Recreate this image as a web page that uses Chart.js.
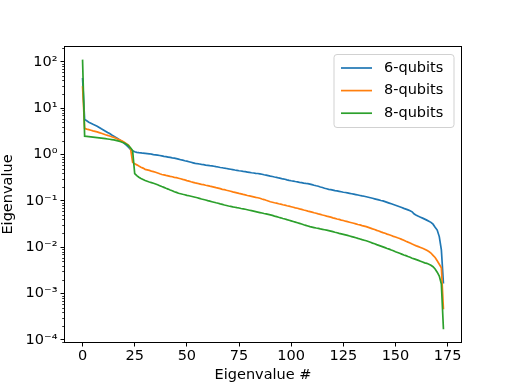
<!DOCTYPE html>
<html><head><meta charset="utf-8">
<script src="https://cdn.jsdelivr.net/npm/chart.js@4.4.0/dist/chart.umd.min.js"></script>
<style>html,body{margin:0;padding:0;background:#fff;overflow:hidden}canvas{display:block}</style>
</head><body>
<canvas id="c" width="514" height="385"></canvas>
<script>
const seriesLabels = ['6-qubits', '8-qubits', '8-qubits'];
const seriesColors = ['#1f77b4', '#ff7f0e', '#2ca02c'];
const xTickValues = [0, 25, 50, 75, 100, 125, 150, 175];
const yTickValues = [1e-4, 1e-3, 1e-2, 1e-1, 1e0, 1e1, 1e2];
const yTickLabels = ['10⁻⁴', '10⁻³', '10⁻²', '10⁻¹', '10⁰', '10¹', '10²'];
const xTitle = 'Eigenvalue #';
const yTitle = 'Eigenvalue';

const blue = [
45, 5.7, 5.35, 5.0, 4.75, 4.5, 4.3, 4.1, 3.85, 3.6,
3.4, 3.2, 3.0, 2.85, 2.65, 2.5, 2.35, 2.2, 2.05, 1.9,
1.75, 1.6, 1.45, 1.3, 1.2, 1.15, 1.12, 1.1, 1.09, 1.07,
1.06, 1.05, 1.04, 1.02, 1.0, 0.985, 0.97, 0.955, 0.935, 0.915,
0.9, 0.885, 0.87, 0.85, 0.835, 0.815, 0.795, 0.775, 0.757, 0.737,
0.72, 0.70, 0.682, 0.664, 0.646, 0.635, 0.627, 0.614, 0.606, 0.594,
0.587, 0.577, 0.569, 0.559, 0.548, 0.539, 0.527, 0.519, 0.508, 0.5,
0.49, 0.482, 0.474, 0.464, 0.457, 0.448, 0.442, 0.433, 0.427, 0.42,
0.413, 0.405, 0.4, 0.394, 0.39, 0.384, 0.376, 0.367, 0.36, 0.352,
0.344, 0.337, 0.328, 0.322, 0.313, 0.307, 0.298, 0.293, 0.285, 0.278,
0.272, 0.268, 0.262, 0.258, 0.252, 0.249, 0.243, 0.239, 0.236, 0.231,
0.225, 0.218, 0.212, 0.207, 0.2, 0.195, 0.188, 0.183, 0.178, 0.175,
0.171, 0.167, 0.164, 0.161, 0.158, 0.154, 0.152, 0.149, 0.146, 0.143,
0.14, 0.137, 0.134, 0.131, 0.128, 0.126, 0.123, 0.12, 0.117, 0.114,
0.111, 0.108, 0.105, 0.102, 0.1, 0.0965, 0.093, 0.0897, 0.0866, 0.0835,
0.0806, 0.0777, 0.075, 0.072, 0.069, 0.0665, 0.064, 0.0615, 0.058, 0.052,
0.049, 0.0465, 0.0445, 0.0425, 0.0405, 0.0385, 0.0365, 0.0345, 0.0315, 0.027,
0.0235, 0.017, 0.0088, 0.00165
];
const orange = [
30, 3.67, 3.55, 3.45, 3.35, 3.25, 3.17, 3.09, 2.98, 2.88,
2.78, 2.68, 2.6, 2.52, 2.43, 2.35, 2.25, 2.15, 2.05, 1.95,
1.85, 1.72, 1.6, 1.35, 0.68, 0.63, 0.6, 0.565, 0.535, 0.51,
0.48, 0.468, 0.455, 0.44, 0.428, 0.415, 0.4, 0.385, 0.372, 0.364,
0.355, 0.348, 0.338, 0.332, 0.323, 0.317, 0.309, 0.3, 0.291, 0.284,
0.275, 0.268, 0.259, 0.252, 0.245, 0.24, 0.234, 0.228, 0.224, 0.218,
0.214, 0.208, 0.204, 0.199, 0.193, 0.189, 0.184, 0.178, 0.175, 0.17,
0.166, 0.162, 0.157, 0.153, 0.149, 0.145, 0.142, 0.138, 0.135, 0.131,
0.128, 0.125, 0.122, 0.119, 0.117, 0.114, 0.11, 0.107, 0.103, 0.0995,
0.096, 0.0938, 0.0912, 0.0893, 0.0868, 0.085, 0.0826, 0.0809, 0.0786, 0.077,
0.075, 0.073, 0.071, 0.0693, 0.0673, 0.0657, 0.0637, 0.0622, 0.0604, 0.0589,
0.0574, 0.0556, 0.0542, 0.0525, 0.0512, 0.0496, 0.0484, 0.0469, 0.0457, 0.0446,
0.0432, 0.0421, 0.0408, 0.0399, 0.0386, 0.0378, 0.0365, 0.0357, 0.0347, 0.0338,
0.0329, 0.0319, 0.031, 0.0303, 0.0293, 0.0286, 0.0278, 0.0268, 0.0259, 0.0249,
0.0241, 0.0231, 0.0224, 0.0215, 0.0207, 0.02, 0.0192, 0.0186, 0.0179, 0.0172,
0.0167, 0.016, 0.0155, 0.0148, 0.0142, 0.0135, 0.0129, 0.0124, 0.0117, 0.0112,
0.0107, 0.0103, 0.0099, 0.0095, 0.0091, 0.0086, 0.0081, 0.0075, 0.0067, 0.006,
0.0051, 0.0043, 0.0036, 0.00046
];
const green = [
112, 2.5, 2.47, 2.44, 2.41, 2.38, 2.35, 2.32, 2.29, 2.26,
2.23, 2.2, 2.17, 2.14, 2.11, 2.08, 2.03, 1.98, 1.92, 1.85,
1.77, 1.68, 1.55, 1.4, 1.22, 0.39, 0.35, 0.325, 0.305, 0.29,
0.275, 0.265, 0.256, 0.248, 0.24, 0.232, 0.223, 0.213, 0.204, 0.196,
0.187, 0.18, 0.172, 0.166, 0.158, 0.153, 0.146, 0.143, 0.139, 0.136,
0.132, 0.129, 0.126, 0.123, 0.12, 0.117, 0.1135, 0.11, 0.1075, 0.1045,
0.1015, 0.099, 0.0962, 0.0937, 0.0911, 0.0889, 0.0863, 0.0842, 0.0818, 0.0798,
0.0776, 0.0761, 0.0744, 0.0731, 0.0715, 0.0702, 0.0686, 0.0674, 0.066, 0.0645,
0.063, 0.0615, 0.06, 0.0586, 0.0573, 0.056, 0.0548, 0.0535, 0.0524, 0.0512,
0.05, 0.0486, 0.0471, 0.0458, 0.0443, 0.0432, 0.0418, 0.0407, 0.0394, 0.0383,
0.0372, 0.036, 0.0349, 0.0338, 0.0327, 0.0317, 0.0306, 0.0297, 0.0287, 0.0278,
0.0272, 0.0266, 0.026, 0.0255, 0.0249, 0.0244, 0.0239, 0.0234, 0.0229, 0.0223,
0.0217, 0.0211, 0.0206, 0.02, 0.0195, 0.019, 0.0185, 0.018, 0.0175, 0.017,
0.0165, 0.016, 0.0155, 0.0151, 0.0146, 0.0142, 0.0138, 0.0133, 0.0128, 0.0123,
0.0119, 0.0114, 0.011, 0.0106, 0.0102, 0.0098, 0.0094, 0.0091, 0.0087, 0.0084,
0.008, 0.0077, 0.0074, 0.0071, 0.0068, 0.0066, 0.0063, 0.0061, 0.0058, 0.0056,
0.0054, 0.0052, 0.005, 0.0048, 0.0046, 0.0045, 0.0043, 0.0041, 0.0038, 0.0034,
0.0029, 0.0024, 0.0016, 0.00017
];

const FONT = {family: "'DejaVu Sans', sans-serif", size: 14.5};
const seriesValues = [blue, orange, green];

const spinesPlugin = {
  id: 'spines',
  afterDatasetsDraw(chart) {
    const {ctx, chartArea: a} = chart;
    ctx.save();
    ctx.strokeStyle = '#000';
    ctx.lineWidth = 1;
    ctx.strokeRect(a.left, a.top, a.right - a.left, a.bottom - a.top);
    // minor log ticks on the y axis, placed by the library's scale
    const y = chart.scales.y;
    ctx.lineWidth = 0.8;
    ctx.beginPath();
    for (let k = -5; k <= 2; k++) {
      for (let m = 2; m <= 9; m++) {
        const v = m * Math.pow(10, k);
        if (v < y.min || v > y.max) continue;
        const py = Math.round(y.getPixelForValue(v)) + 0.5;
        ctx.moveTo(a.left - 2.3, py);
        ctx.lineTo(a.left, py);
      }
    }
    ctx.stroke();
    ctx.restore();
  }
};

const legendPlugin = {
  id: 'boxLegend',
  afterDraw(chart) {
    const {ctx, chartArea: a} = chart;
    const w = 120, h = 73;
    const x0 = a.right - 7.5 - w, y0 = a.top + 8;
    ctx.save();
    ctx.beginPath();
    if (ctx.roundRect) ctx.roundRect(x0, y0, w, h, 3); else ctx.rect(x0, y0, w, h);
    ctx.fillStyle = 'rgba(255,255,255,0.8)';
    ctx.fill();
    ctx.strokeStyle = 'rgba(204,204,204,0.9)';
    ctx.lineWidth = 1;
    ctx.stroke();
    ctx.font = `${FONT.size}px ${FONT.family}`;
    ctx.textBaseline = 'middle';
    ctx.textAlign = 'left';
    chart.data.datasets.forEach((ds, i) => {
      const ry = y0 + 13.5 + i * 22.6;
      ctx.strokeStyle = ds.borderColor;
      ctx.lineWidth = 1.7;
      ctx.beginPath();
      ctx.moveTo(x0 + 7, ry);
      ctx.lineTo(x0 + 38, ry);
      ctx.stroke();
      ctx.fillStyle = '#000';
      ctx.fillText(ds.label, x0 + 50, ry);
    });
    ctx.restore();
  }
};

new Chart(document.getElementById('c'), {
  type: 'line',
  data: {
    datasets: seriesValues.map((vals, s) => ({
      label: seriesLabels[s],
      data: vals.map((v, i) => ({x: i, y: v})),
      borderColor: seriesColors[s],
      backgroundColor: seriesColors[s],
      borderWidth: 1.7,
      pointRadius: 0,
      tension: 0,
      fill: false,
      order: 3 - s
    }))
  },
  options: {
    responsive: false,
    animation: false,
    devicePixelRatio: 1,
    layout: {padding: {left: 0, right: 52.5, top: 46.5, bottom: 0}},
    plugins: {legend: {display: false}, tooltip: {enabled: false}},
    scales: {
      x: {
        type: 'linear',
        min: -8.65,
        max: 181.65,
        afterBuildTicks: s => { s.ticks = xTickValues.map(v => ({value: v})); },
        afterFit: s => { s.height = 42.5; },
        ticks: {color: '#000', font: FONT, padding: 1, maxRotation: 0, autoSkip: false,
                callback: v => String(v)},
        grid: {display: true, drawOnChartArea: false, drawTicks: true, tickLength: 4,
               tickColor: '#000', tickWidth: 1},
        border: {display: false},
        title: {display: true, text: xTitle, color: '#000', font: FONT, padding: {top: 0, bottom: 1}}
      },
      y: {
        type: 'logarithmic',
        min: 8.8e-5,
        max: 215,
        afterBuildTicks: s => { s.ticks = yTickValues.map(v => ({value: v, major: true})); },
        afterFit: s => { s.width = 64.5; },
        ticks: {color: '#000', font: FONT, padding: 3, autoSkip: false,
                callback: (v, i) => yTickLabels[i]},
        grid: {display: true, drawOnChartArea: false, drawTicks: true, tickLength: 4,
               tickColor: '#000', tickWidth: 1},
        border: {display: false},
        title: {display: true, text: yTitle, color: '#000', font: FONT, padding: {top: 0, bottom: 0}}
      }
    }
  },
  plugins: [spinesPlugin, legendPlugin]
});
</script>
</body></html>
